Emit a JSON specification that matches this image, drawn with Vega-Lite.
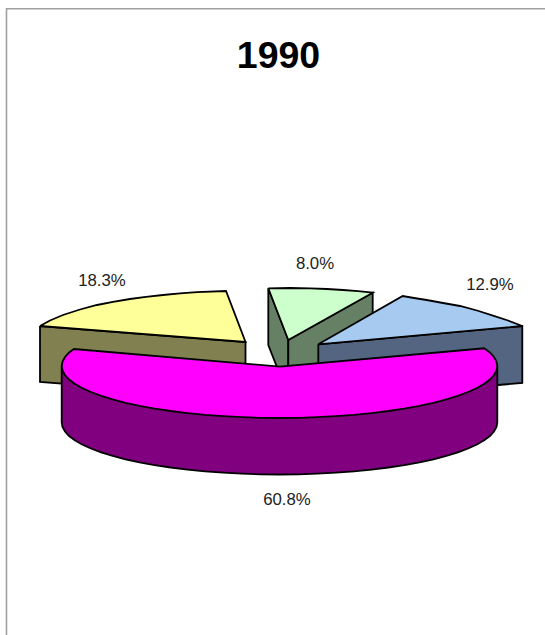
{"$schema":"https://vega.github.io/schema/vega-lite/v6.json","width":545,"height":635,"padding":0,"autosize":{"type":"none"},"background":"white","config":{"view":{"stroke":null}},
"layer":[
{"data":{"values":[{"i":0,"x":6.5,"y":635},{"i":1,"x":6.5,"y":8.7},{"i":2,"x":545,"y":8.7}]},"mark":{"type":"line","stroke":"#a0a0a0","strokeWidth":1.6},"encoding":{"x":{"field":"x","type":"quantitative","axis":null,"scale":{"domain":[0,545],"nice":false,"zero":false}},"y":{"field":"y","type":"quantitative","axis":null,"scale":{"domain":[635,0],"nice":false,"zero":false}},"order":{"field":"i"}}},
{"data":{"values":[
{"shape":"Yellow side","i":0,"x":40,"y":326},{"shape":"Yellow side","i":1,"x":245.5,"y":342},{"shape":"Yellow side","i":2,"x":245.5,"y":398},{"shape":"Yellow side","i":3,"x":40,"y":382},{"shape":"Yellow side","i":4,"x":40,"y":326},
{"shape":"Yellow top","i":0,"x":40,"y":326},{"shape":"Yellow top","i":1,"x":50,"y":320.5},{"shape":"Yellow top","i":2,"x":63,"y":315},{"shape":"Yellow top","i":3,"x":80,"y":309.5},{"shape":"Yellow top","i":4,"x":97,"y":305},{"shape":"Yellow top","i":5,"x":113,"y":301.8},{"shape":"Yellow top","i":6,"x":130,"y":299},{"shape":"Yellow top","i":7,"x":146,"y":296.8},{"shape":"Yellow top","i":8,"x":163,"y":295},{"shape":"Yellow top","i":9,"x":180,"y":293.4},{"shape":"Yellow top","i":10,"x":197,"y":292.2},{"shape":"Yellow top","i":11,"x":226,"y":291},{"shape":"Yellow top","i":12,"x":245.5,"y":342},{"shape":"Yellow top","i":13,"x":40,"y":326},
{"shape":"Green left","i":0,"x":268.3,"y":288.3},{"shape":"Green left","i":1,"x":288.3,"y":340},{"shape":"Green left","i":2,"x":288.3,"y":396},{"shape":"Green left","i":3,"x":268.3,"y":345},{"shape":"Green left","i":4,"x":268.3,"y":288.3},
{"shape":"Green right","i":0,"x":288.3,"y":340},{"shape":"Green right","i":1,"x":372.7,"y":292.7},{"shape":"Green right","i":2,"x":372.7,"y":349},{"shape":"Green right","i":3,"x":288.3,"y":396},{"shape":"Green right","i":4,"x":288.3,"y":340},
{"shape":"Green top","i":0,"x":268.3,"y":288.3},{"shape":"Green top","i":1,"x":290,"y":288},{"shape":"Green top","i":2,"x":310,"y":288.3},{"shape":"Green top","i":3,"x":327,"y":289},{"shape":"Green top","i":4,"x":343,"y":290},{"shape":"Green top","i":5,"x":358,"y":291.2},{"shape":"Green top","i":6,"x":372.7,"y":292.7},{"shape":"Green top","i":7,"x":288.3,"y":340},{"shape":"Green top","i":8,"x":268.3,"y":288.3},
{"shape":"Blue side","i":0,"x":318.3,"y":344.3},{"shape":"Blue side","i":1,"x":522.3,"y":326},{"shape":"Blue side","i":2,"x":522.3,"y":383},{"shape":"Blue side","i":3,"x":318.3,"y":400},{"shape":"Blue side","i":4,"x":318.3,"y":344.3},
{"shape":"Blue top","i":0,"x":318.3,"y":344.3},{"shape":"Blue top","i":1,"x":402.7,"y":296},{"shape":"Blue top","i":2,"x":414,"y":298},{"shape":"Blue top","i":3,"x":426.7,"y":300},{"shape":"Blue top","i":4,"x":443,"y":303},{"shape":"Blue top","i":5,"x":460,"y":306},{"shape":"Blue top","i":6,"x":477,"y":310.5},{"shape":"Blue top","i":7,"x":493,"y":315.7},{"shape":"Blue top","i":8,"x":508,"y":320.5},{"shape":"Blue top","i":9,"x":522.3,"y":326},{"shape":"Blue top","i":10,"x":318.3,"y":344.3},
{"shape":"Magenta side","i":0,"x":61.7,"y":366},{"shape":"Magenta side","i":1,"x":62.5,"y":370.5},{"shape":"Magenta side","i":2,"x":65,"y":375},{"shape":"Magenta side","i":3,"x":69.1,"y":379.5},{"shape":"Magenta side","i":4,"x":74.8,"y":383.8},{"shape":"Magenta side","i":5,"x":82.1,"y":388},{"shape":"Magenta side","i":6,"x":90.9,"y":392},{"shape":"Magenta side","i":7,"x":279.5,"y":418},{"shape":"Magenta side","i":8,"x":468.1,"y":392},{"shape":"Magenta side","i":9,"x":476.9,"y":388},{"shape":"Magenta side","i":10,"x":484.2,"y":383.8},{"shape":"Magenta side","i":11,"x":489.9,"y":379.5},{"shape":"Magenta side","i":12,"x":494,"y":375},{"shape":"Magenta side","i":13,"x":496.5,"y":370.5},{"shape":"Magenta side","i":14,"x":497.3,"y":366},
{"shape":"Magenta side","i":15,"x":497.3,"y":422.5},{"shape":"Magenta side","i":16,"x":496.5,"y":427},{"shape":"Magenta side","i":17,"x":494,"y":431.5},{"shape":"Magenta side","i":18,"x":489.9,"y":436},{"shape":"Magenta side","i":19,"x":484.2,"y":440.3},{"shape":"Magenta side","i":20,"x":476.9,"y":444.5},{"shape":"Magenta side","i":21,"x":468.1,"y":448.5},{"shape":"Magenta side","i":22,"x":457.9,"y":452.3},{"shape":"Magenta side","i":23,"x":446.3,"y":455.9},{"shape":"Magenta side","i":24,"x":433.5,"y":459.3},{"shape":"Magenta side","i":25,"x":419.5,"y":462.3},{"shape":"Magenta side","i":26,"x":404.4,"y":465.1},{"shape":"Magenta side","i":27,"x":388.4,"y":467.5},{"shape":"Magenta side","i":28,"x":371.5,"y":469.6},{"shape":"Magenta side","i":29,"x":354,"y":471.4},{"shape":"Magenta side","i":30,"x":335.9,"y":472.7},{"shape":"Magenta side","i":31,"x":317.3,"y":473.7},{"shape":"Magenta side","i":32,"x":298.5,"y":474.3},{"shape":"Magenta side","i":33,"x":279.5,"y":474.5},{"shape":"Magenta side","i":34,"x":260.5,"y":474.3},{"shape":"Magenta side","i":35,"x":241.7,"y":473.7},{"shape":"Magenta side","i":36,"x":223.1,"y":472.7},{"shape":"Magenta side","i":37,"x":205,"y":471.4},{"shape":"Magenta side","i":38,"x":187.5,"y":469.6},{"shape":"Magenta side","i":39,"x":170.6,"y":467.5},{"shape":"Magenta side","i":40,"x":154.6,"y":465.1},{"shape":"Magenta side","i":41,"x":139.5,"y":462.3},{"shape":"Magenta side","i":42,"x":125.5,"y":459.3},{"shape":"Magenta side","i":43,"x":112.7,"y":455.9},{"shape":"Magenta side","i":44,"x":101.1,"y":452.3},{"shape":"Magenta side","i":45,"x":90.9,"y":448.5},{"shape":"Magenta side","i":46,"x":82.1,"y":444.5},{"shape":"Magenta side","i":47,"x":74.8,"y":440.3},{"shape":"Magenta side","i":48,"x":69.1,"y":436},{"shape":"Magenta side","i":49,"x":65,"y":431.5},{"shape":"Magenta side","i":50,"x":62.5,"y":427},{"shape":"Magenta side","i":51,"x":61.7,"y":422.5},{"shape":"Magenta side","i":52,"x":61.7,"y":366},
{"shape":"Magenta top","i":0,"x":280,"y":366.7},{"shape":"Magenta top","i":1,"x":74,"y":349},{"shape":"Magenta top","i":2,"x":69.1,"y":352.5},{"shape":"Magenta top","i":3,"x":65,"y":357},{"shape":"Magenta top","i":4,"x":62.5,"y":361.5},{"shape":"Magenta top","i":5,"x":61.7,"y":366},{"shape":"Magenta top","i":6,"x":62.5,"y":370.5},{"shape":"Magenta top","i":7,"x":65,"y":375},{"shape":"Magenta top","i":8,"x":69.1,"y":379.5},{"shape":"Magenta top","i":9,"x":74.8,"y":383.8},{"shape":"Magenta top","i":10,"x":82.1,"y":388},{"shape":"Magenta top","i":11,"x":90.9,"y":392},{"shape":"Magenta top","i":12,"x":101.1,"y":395.8},{"shape":"Magenta top","i":13,"x":112.7,"y":399.4},{"shape":"Magenta top","i":14,"x":125.5,"y":402.8},{"shape":"Magenta top","i":15,"x":139.5,"y":405.8},{"shape":"Magenta top","i":16,"x":154.6,"y":408.6},{"shape":"Magenta top","i":17,"x":170.6,"y":411},{"shape":"Magenta top","i":18,"x":187.5,"y":413.1},{"shape":"Magenta top","i":19,"x":205,"y":414.9},{"shape":"Magenta top","i":20,"x":223.1,"y":416.2},{"shape":"Magenta top","i":21,"x":241.7,"y":417.2},{"shape":"Magenta top","i":22,"x":260.5,"y":417.8},{"shape":"Magenta top","i":23,"x":279.5,"y":418},{"shape":"Magenta top","i":24,"x":298.5,"y":417.8},{"shape":"Magenta top","i":25,"x":317.3,"y":417.2},{"shape":"Magenta top","i":26,"x":335.9,"y":416.2},{"shape":"Magenta top","i":27,"x":354,"y":414.9},{"shape":"Magenta top","i":28,"x":371.5,"y":413.1},{"shape":"Magenta top","i":29,"x":388.4,"y":411},{"shape":"Magenta top","i":30,"x":404.4,"y":408.6},{"shape":"Magenta top","i":31,"x":419.5,"y":405.8},{"shape":"Magenta top","i":32,"x":433.5,"y":402.8},{"shape":"Magenta top","i":33,"x":446.3,"y":399.4},{"shape":"Magenta top","i":34,"x":457.9,"y":395.8},{"shape":"Magenta top","i":35,"x":468.1,"y":392},{"shape":"Magenta top","i":36,"x":476.9,"y":388},{"shape":"Magenta top","i":37,"x":484.2,"y":383.8},{"shape":"Magenta top","i":38,"x":489.9,"y":379.5},{"shape":"Magenta top","i":39,"x":494,"y":375},{"shape":"Magenta top","i":40,"x":496.5,"y":370.5},{"shape":"Magenta top","i":41,"x":497.3,"y":366},{"shape":"Magenta top","i":42,"x":496.5,"y":361.5},{"shape":"Magenta top","i":43,"x":494,"y":357},{"shape":"Magenta top","i":44,"x":489.9,"y":352.5},{"shape":"Magenta top","i":45,"x":484.2,"y":348.3},{"shape":"Magenta top","i":46,"x":280,"y":366.7}
]},"mark":{"type":"line","filled":true,"stroke":"black","strokeWidth":1.8,"strokeJoin":"miter"},"encoding":{"x":{"field":"x","type":"quantitative","axis":null,"scale":{"domain":[0,545],"nice":false,"zero":false}},"y":{"field":"y","type":"quantitative","axis":null,"scale":{"domain":[635,0],"nice":false,"zero":false}},"order":{"field":"i"},"color":{"field":"shape","type":"nominal","legend":null,"scale":{"domain":["Yellow side","Yellow top","Green left","Green right","Green top","Blue side","Blue top","Magenta side","Magenta top"],"range":["#808050","#FFFF99","#668066","#668066","#CCFFCC","#536580","#A6CAF0","#800080","#FF00FF"]}}}},
{"data":{"values":[{"label":"8.0%","x":315,"y":264},{"label":"18.3%","x":102,"y":281},{"label":"12.9%","x":490,"y":285},{"label":"60.8%","x":287,"y":500}]},"mark":{"type":"text","font":"Liberation Sans","fontSize":16.8,"fill":"#222222","align":"center","baseline":"middle"},"encoding":{"x":{"field":"x","type":"quantitative","axis":null,"scale":{"domain":[0,545],"nice":false,"zero":false}},"y":{"field":"y","type":"quantitative","axis":null,"scale":{"domain":[635,0],"nice":false,"zero":false}},"text":{"field":"label"}}},
{"data":{"values":[{"label":"1990","x":278.5,"y":67.5}]},"mark":{"type":"text","font":"Liberation Sans","fontWeight":"bold","fontSize":37.5,"fill":"black","align":"center","baseline":"alphabetic"},"encoding":{"x":{"field":"x","type":"quantitative","axis":null,"scale":{"domain":[0,545],"nice":false,"zero":false}},"y":{"field":"y","type":"quantitative","axis":null,"scale":{"domain":[635,0],"nice":false,"zero":false}},"text":{"field":"label"}}}
]}
